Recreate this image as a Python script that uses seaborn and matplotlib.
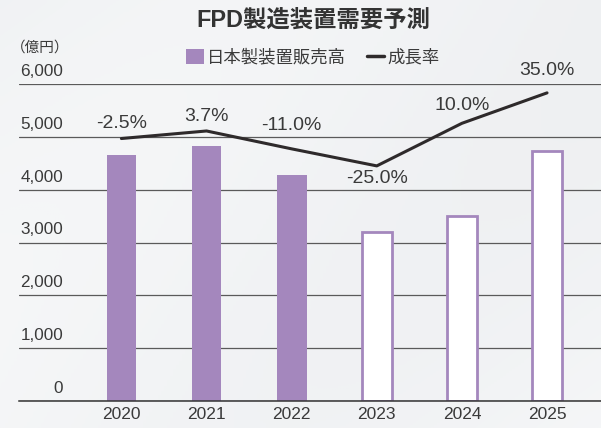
"""
FPD製造装置需要予測 - bar + growth line
"""

import numpy as np
import pandas as pd
import seaborn as sns
import matplotlib.pyplot as plt
from matplotlib.patches import Patch
from matplotlib.lines import Line2D
from matplotlib.colors import LinearSegmentedColormap
from matplotlib.transforms import blended_transform_factory

years = ['2020', '2021', '2022', '2023', '2024', '2025']
sales = [4650, 4820, 4280, 3190, 3500, 4740]
growth = [-2.5, 3.7, -11.0, -25.0, 10.0, 35.0]
forecast = [False, False, False, True, True, True]
yticks = [0, 1000, 2000, 3000, 4000, 5000, 6000]

purple = '#a487bd'
dark = '#2e2a2b'
text_c = '#3a3a3a'

sns.set_theme(style='white')
plt.rcParams['font.family'] = ['Liberation Sans', 'Noto Sans CJK JP']

fig = plt.figure(figsize=(6.01, 4.28), dpi=100)

# light brushed-metal-ish backdrop
bg = fig.add_axes([0, 0, 1, 1], zorder=-1)
yy, xx = np.mgrid[0:1:200j, 0:1:200j]
shade = 0.6 + 0.15 * np.sin(4 * (xx + 0.7 * yy)) + 0.15 * yy
cmap = LinearSegmentedColormap.from_list('bg', ['#e6e8eb', '#f8f9fa'])
bg.imshow(shade, cmap=cmap, aspect='auto', extent=(0, 1, 0, 1), vmin=0, vmax=1)
bg.axis('off')

ax = fig.add_axes([19 / 601, 27 / 428, 582 / 601, 317 / 428])
ax.patch.set_alpha(0)

df = pd.DataFrame({'year': years, 'sales': sales})
sns.barplot(data=df, x='year', y='sales', color=purple, saturation=1,
            width=0.35, ax=ax)
for p, f in zip(ax.patches, forecast):
    p.set_linewidth(0)
    if f:
        p.set_facecolor('white')
        p.set_edgecolor(purple)
        p.set_linewidth(2.0)

ax.set_ylim(0, 6000)
ax.set_yticks(yticks)
ax.yaxis.grid(True, color='#5a5a5a', lw=0.9)
ax.set_axisbelow(True)
ax.tick_params(axis='y', length=0, labelleft=False)
ax.tick_params(axis='x', length=0, labelsize=12.5, colors=text_c, pad=4)
for s in ['top', 'left', 'right']:
    ax.spines[s].set_visible(False)
ax.spines['bottom'].set_color('#333333')
ax.spines['bottom'].set_linewidth(1.1)
ax.set_xlabel('')
ax.set_ylabel('')

trans = blended_transform_factory(ax.transAxes, ax.transData)
for v in yticks:
    ax.annotate(f'{v:,}', xy=(44 / 582, v), xycoords=trans, xytext=(0, 8),
                textcoords='offset pixels', ha='right', va='baseline',
                fontsize=12.3, color=text_c)

# growth rate on a hidden second axis
ax2 = ax.twinx()
xpos = np.arange(len(years))
sns.lineplot(x=xpos, y=growth, ax=ax2, color=dark, lw=2.2)
ax2.set_ylim(-218.2, 42.3)
ax2.axis('off')
ax.set_xlim(-1.203, 5.634)

label_dy = [15, 14, 23, -13, 18, 22]
for x, g, dy in zip(xpos, growth, label_dy):
    ax2.annotate(f'{g:.1f}%', xy=(x, g), xytext=(0, dy),
                 textcoords='offset pixels', ha='center', va='center',
                 fontsize=14, color=text_c)

fig.text(313 / 601, 1 - 20 / 428, 'FPD製造装置需要予測', ha='center',
         va='center', fontsize=16.8, fontweight='bold', color='#333333')
fig.text(11 / 601, 1 - 48 / 428, '（億円）', ha='left', va='center',
         fontsize=10.5, color=text_c)

handles = [Patch(facecolor=purple, edgecolor='none'),
           Line2D([], [], color=dark, lw=2.5)]
leg = fig.legend(handles, ['日本製装置販売高', '成長率'], loc='center',
                 bbox_to_anchor=(313 / 601, 1 - 57 / 428), ncol=2,
                 frameon=False, fontsize=12.5, handlelength=1.0,
                 handleheight=1.0, handletextpad=0.2, columnspacing=1.2)
for t in leg.get_texts():
    t.set_color(text_c)

fig.savefig('out.png', dpi=100)
